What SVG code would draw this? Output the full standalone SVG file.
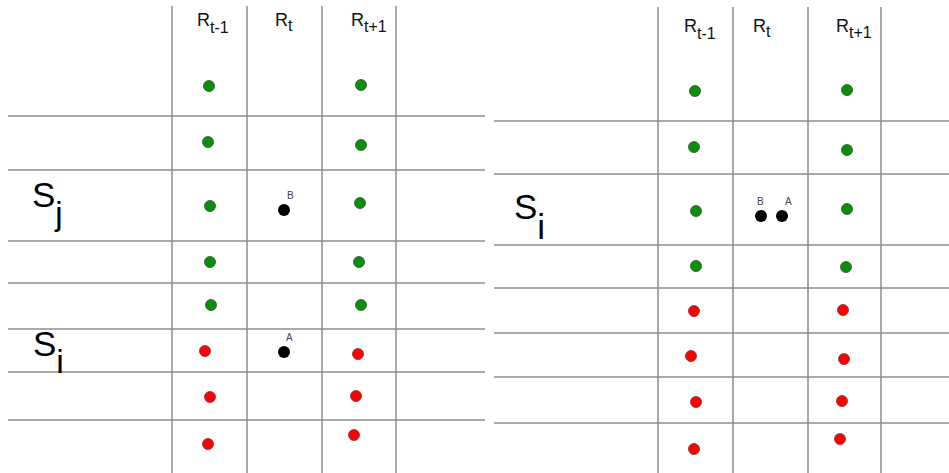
<svg xmlns="http://www.w3.org/2000/svg" width="949" height="473" viewBox="0 0 949 473">
<style>
.grid line{stroke:#8c8c8c;stroke-width:1.5}
.g{fill:#0a8f0a;stroke:#2d4f2d;stroke-width:0.8}
.r{fill:#ff0000;stroke:#7a3030;stroke-width:0.8}
.k{fill:#000}
.hdr{font-family:"Liberation Sans",Arial,sans-serif;font-size:18px;fill:#111}
.sub{font-size:16px;fill:#111}
.big{font-family:"Liberation Sans",Arial,sans-serif;font-size:35px;fill:#000}
.bsub{fill:#000}
.lbl{font-family:"Liberation Sans",Arial,sans-serif;font-size:10px;fill:#444}
</style>
<rect width="949" height="473" fill="#fff"/>
<g id="connectors" class="grid">
<line x1="172" y1="6" x2="172" y2="473"/>
<line x1="247" y1="6" x2="247" y2="473"/>
<line x1="322" y1="6" x2="322" y2="473"/>
<line x1="396" y1="6" x2="396" y2="473"/>
<line x1="8" y1="116" x2="485" y2="116"/>
<line x1="8" y1="170" x2="485" y2="170"/>
<line x1="8" y1="241" x2="485" y2="241"/>
<line x1="8" y1="283" x2="485" y2="283"/>
<line x1="8" y1="329" x2="485" y2="329"/>
<line x1="8" y1="372" x2="485" y2="372"/>
<line x1="8" y1="420" x2="485" y2="420"/>
<line x1="658" y1="7" x2="658" y2="473"/>
<line x1="733" y1="7" x2="733" y2="473"/>
<line x1="808" y1="7" x2="808" y2="473"/>
<line x1="881" y1="7" x2="881" y2="473"/>
<line x1="494" y1="121" x2="949" y2="121"/>
<line x1="494" y1="174" x2="949" y2="174"/>
<line x1="494" y1="245" x2="949" y2="245"/>
<line x1="494" y1="288" x2="949" y2="288"/>
<line x1="494" y1="333" x2="949" y2="333"/>
<line x1="494" y1="377" x2="949" y2="377"/>
<line x1="494" y1="423" x2="949" y2="423"/>
</g>
<g id="left-headers">
<text class="hdr" x="197" y="26">R<tspan class="sub" dy="7">t-1</tspan></text>
<text class="hdr" x="275" y="26">R<tspan class="sub" dy="5">t</tspan></text>
<text class="hdr" x="351" y="26">R<tspan class="sub" dy="6">t+1</tspan></text>
</g>
<g id="left-labels">
<text class="big" x="32" y="207">S<tspan class="bsub" dy="18" font-size="33">j</tspan></text>
<text class="big" x="33" y="356">S<tspan class="bsub" dy="17" font-size="34">i</tspan></text>
</g>
<g id="left-prev">
<circle class="g" cx="209" cy="86" r="5.5"/>
<circle class="g" cx="208" cy="142" r="5.5"/>
<circle class="g" cx="210" cy="206" r="5.5"/>
<circle class="g" cx="210" cy="262" r="5.5"/>
<circle class="g" cx="211" cy="305" r="5.5"/>
<circle class="r" cx="205" cy="351" r="5.5"/>
<circle class="r" cx="210" cy="397" r="5.5"/>
<circle class="r" cx="208" cy="444" r="5.5"/>
</g>
<g id="left-next">
<circle class="g" cx="361" cy="85" r="5.5"/>
<circle class="g" cx="361" cy="145" r="5.5"/>
<circle class="g" cx="360" cy="203" r="5.5"/>
<circle class="g" cx="359" cy="262" r="5.5"/>
<circle class="g" cx="361" cy="305" r="5.5"/>
<circle class="r" cx="358" cy="354" r="5.5"/>
<circle class="r" cx="356" cy="396" r="5.5"/>
<circle class="r" cx="354" cy="435" r="5.5"/>
</g>
<g id="left-B">
<circle class="k" cx="284" cy="210" r="6"/>
<text class="lbl" x="287" y="199">B</text>
</g>
<g id="left-A">
<circle class="k" cx="284" cy="352" r="6"/>
<text class="lbl" x="286" y="341">A</text>
</g>
<g id="right-headers">
<text class="hdr" x="684" y="32">R<tspan class="sub" dy="7">t-1</tspan></text>
<text class="hdr" x="753" y="32">R<tspan class="sub" dy="5">t</tspan></text>
<text class="hdr" x="836" y="32">R<tspan class="sub" dy="6">t+1</tspan></text>
</g>
<g id="right-labels">
<text class="big" x="514" y="219">S<tspan class="bsub" dy="20" font-size="35">i</tspan></text>
</g>
<g id="right-prev">
<circle class="g" cx="695" cy="91" r="5.5"/>
<circle class="g" cx="694" cy="147" r="5.5"/>
<circle class="g" cx="696" cy="211" r="5.5"/>
<circle class="g" cx="696" cy="266" r="5.5"/>
<circle class="r" cx="694" cy="311" r="5.5"/>
<circle class="r" cx="691" cy="356" r="5.5"/>
<circle class="r" cx="696" cy="402" r="5.5"/>
<circle class="r" cx="694" cy="449" r="5.5"/>
</g>
<g id="right-next">
<circle class="g" cx="847" cy="90" r="5.5"/>
<circle class="g" cx="847" cy="150" r="5.5"/>
<circle class="g" cx="847" cy="209" r="5.5"/>
<circle class="g" cx="846" cy="267" r="5.5"/>
<circle class="r" cx="843" cy="310" r="5.5"/>
<circle class="r" cx="844" cy="359" r="5.5"/>
<circle class="r" cx="842" cy="401" r="5.5"/>
<circle class="r" cx="840" cy="439" r="5.5"/>
</g>
<g id="right-B">
<circle class="k" cx="761" cy="216" r="6"/>
<text class="lbl" x="757" y="205">B</text>
</g>
<g id="right-A">
<circle class="k" cx="782" cy="216" r="6"/>
<text class="lbl" x="785" y="205">A</text>
</g>
</svg>
